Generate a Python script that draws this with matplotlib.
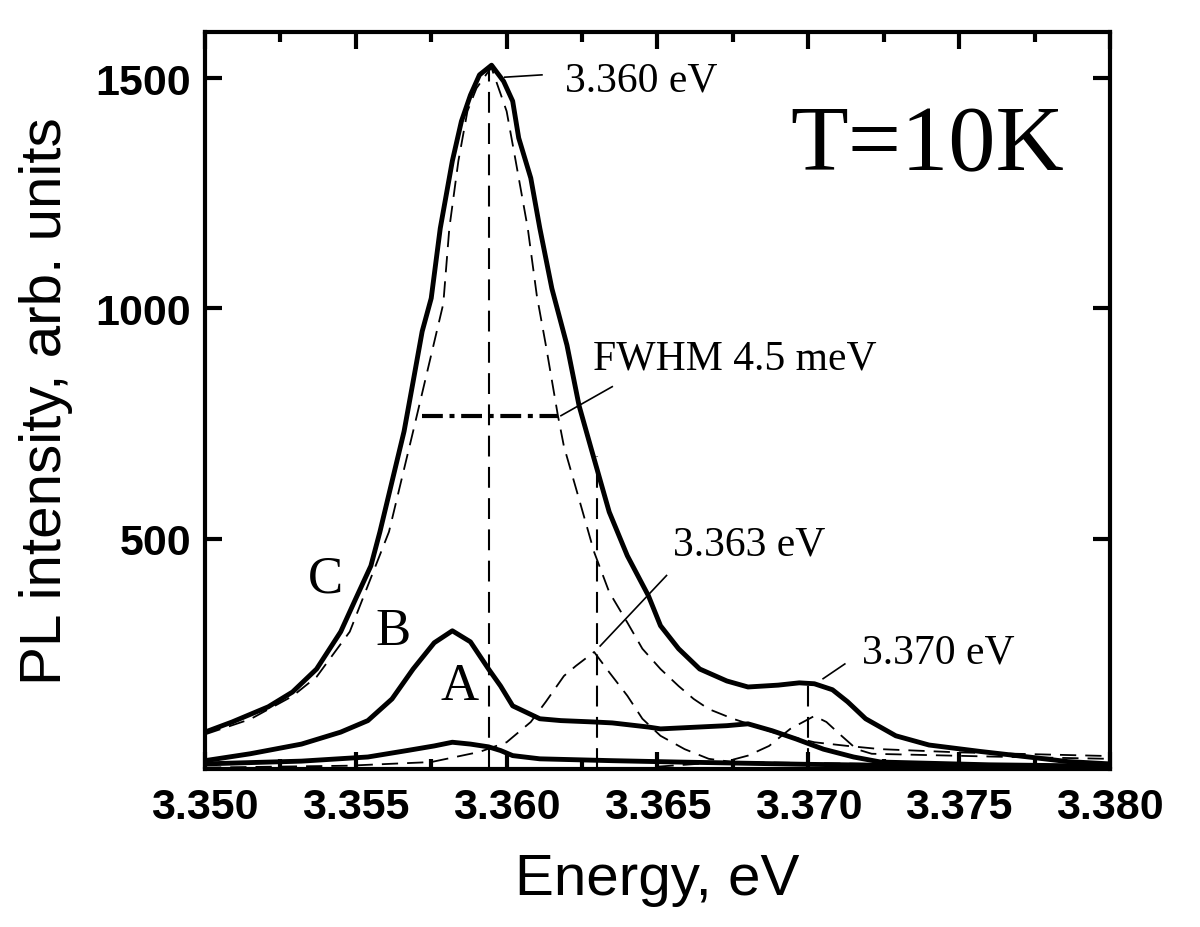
import matplotlib
matplotlib.use('Agg')
import matplotlib.pyplot as plt
from matplotlib.ticker import MultipleLocator, FormatStrFormatter

# PL spectra (energy in eV, intensity in arb. units)
c_energy = [3.3500, 3.3509, 3.3521, 3.3529, 3.3537, 3.3545, 3.3550, 3.3555, 3.3558, 3.3562,
            3.3566, 3.3569, 3.3572, 3.3575, 3.3578, 3.3582, 3.3585, 3.3588, 3.3591, 3.3595,
            3.3599, 3.3602, 3.3604, 3.3608, 3.3611, 3.3615, 3.3620, 3.3624, 3.3628, 3.3634,
            3.3640, 3.3647, 3.3651, 3.3657, 3.3664, 3.3673, 3.3680, 3.3690, 3.3697, 3.3702,
            3.3708, 3.3713, 3.3719, 3.3729, 3.3740, 3.3757, 3.3773, 3.3786, 3.3800]
c_int = [80, 102, 135, 167, 217, 298, 370, 441, 515, 624,
         733, 841, 950, 1022, 1174, 1320, 1406, 1463, 1507, 1528,
         1493, 1450, 1370, 1283, 1174, 1043, 920, 789, 696, 558,
         463, 376, 311, 261, 217, 191, 178, 182, 187, 185,
         172, 146, 109, 72, 52, 38, 26, 16, 11]

b_energy = [3.3500, 3.3515, 3.3532, 3.3545, 3.3554, 3.3562, 3.3569, 3.3576, 3.3582, 3.3588,
            3.3594, 3.3598, 3.3602, 3.3611, 3.3618, 3.3629, 3.3635, 3.3647, 3.3651, 3.3673,
            3.3680, 3.3688, 3.3696, 3.3705, 3.3715, 3.3724, 3.3760, 3.3800]
b_int = [18, 33, 54, 80, 105, 152, 217, 274, 300, 276,
         217, 180, 137, 109, 105, 102, 100, 91, 87, 94,
         98, 83, 65, 43, 26, 15, 9, 6]

a_energy = [3.3500, 3.3532, 3.3554, 3.3567, 3.3576, 3.3582, 3.3588, 3.3594, 3.3598, 3.3602,
            3.3611, 3.3635, 3.3657, 3.3700, 3.3750, 3.3800]
a_int = [11, 17, 26, 40, 50, 58, 54, 48, 40, 29,
         22, 18, 15, 10, 6, 4]

# fit components (dashed)
fit1_energy = [3.3500, 3.3515, 3.3529, 3.3537, 3.3548, 3.3561, 3.3569, 3.3579, 3.3581, 3.3584,
               3.3587, 3.3590, 3.3594, 3.3595, 3.3600, 3.3603, 3.3607, 3.3610, 3.3613, 3.3617,
               3.3619, 3.3623, 3.3629, 3.3634, 3.3640, 3.3645, 3.3651, 3.3657, 3.3662, 3.3667,
               3.3675, 3.3682, 3.3688, 3.3702, 3.3713, 3.3724, 3.3750, 3.3800]
fit1_int = [75, 108, 158, 200, 298, 515, 733, 1010, 1174, 1320,
            1428, 1478, 1515, 1522, 1428, 1320, 1174, 1028, 920, 767,
            700, 609, 471, 384, 318, 261, 217, 180, 152, 130,
            109, 94, 80, 58, 50, 43, 36, 28]

fit2_energy = [3.3500, 3.3547, 3.3575, 3.3591, 3.3600, 3.3608, 3.3613, 3.3619, 3.3623, 3.3629,
               3.3634, 3.3640, 3.3645, 3.3651, 3.3659, 3.3667, 3.3675, 3.3720, 3.3800]
fit2_int = [3, 7, 15, 37, 58, 102, 146, 202, 224, 254,
            210, 159, 109, 72, 43, 22, 15, 11, 7]

fit3_energy = [3.3650, 3.3672, 3.3680, 3.3687, 3.3694, 3.3702, 3.3706, 3.3711, 3.3716, 3.3721,
               3.3760, 3.3800]
fit3_int = [5, 15, 29, 50, 87, 115, 102, 72, 43, 33, 27, 22]

# peak markers and FWHM bar
peak_energy = [3.3594, 3.3630, 3.3700]
peak_top = [1525, 680, 185]
fwhm_energy = [3.3572, 3.3617]
fwhm_level = 767

serif = ['Liberation Serif', 'DejaVu Serif']
sans = ['Liberation Sans', 'DejaVu Sans']

fig = plt.figure(figsize=(12, 9.28), dpi=100)
ax = fig.add_axes([0.1708, 0.1703, 0.7542, 0.7941])

thick = dict(color='black', linewidth=3.5, solid_joinstyle='round')
thin = dict(color='black', linewidth=1.3, linestyle=(0, (9, 5)))

ax.plot(c_energy, c_int, **thick)
ax.plot(b_energy, b_int, **thick)
ax.plot(a_energy, a_int, **thick)
ax.plot(fit1_energy, fit1_int, **thin)
ax.plot(fit2_energy, fit2_int, **thin)
ax.plot(fit3_energy, fit3_int, **thin)
for e, top in zip(peak_energy, peak_top):
    ax.plot([e, e], [0, top], color='black', linewidth=1.5, linestyle=(0, (10, 5)))
ax.plot(fwhm_energy, [fwhm_level, fwhm_level], color='black', linewidth=3,
        linestyle=(0, (5, 1.6, 1.2, 1.6)))

# annotations
ax.plot([3.35994, 3.36117], [1502, 1507], color='black', linewidth=1.2)
ax.text(3.36193, 1496, '3.360 eV', fontsize=30, family=serif, va='center', ha='left')
ax.plot([3.3618, 3.3635], [767, 830], color='black', linewidth=1.2)
ax.text(3.36286, 891, 'FWHM 4.5 meV', fontsize=30, family=serif, va='center', ha='left')
ax.plot([3.3631, 3.3653], [267, 420], color='black', linewidth=1.2)
ax.text(3.36551, 487, '3.363 eV', fontsize=30, family=serif, va='center', ha='left')
ax.plot([3.37049, 3.37121], [196, 228], color='black', linewidth=1.2)
ax.text(3.37178, 254, '3.370 eV', fontsize=30, family=serif, va='center', ha='left')
ax.text(3.36939, 1350, 'T=10K', fontsize=68, family=serif, va='center', ha='left')

ax.text(3.35398, 413, 'C', fontsize=38, family=serif, va='center', ha='center')
ax.text(3.35623, 300, 'B', fontsize=38, family=serif, va='center', ha='center')
ax.text(3.35845, 180, 'A', fontsize=38, family=serif, va='center', ha='center')

ax.set_xlim(3.350, 3.380)
ax.set_ylim(0, 1600)
ax.xaxis.set_major_locator(MultipleLocator(0.005))
ax.xaxis.set_minor_locator(MultipleLocator(0.0025))
ax.xaxis.set_major_formatter(FormatStrFormatter('%.3f'))
ax.set_yticks([500, 1000, 1500])

ax.tick_params(which='both', direction='in', top=True, right=True, width=3, color='black')
ax.tick_params(which='major', length=12)
ax.tick_params(which='minor', length=7)
ax.tick_params(axis='x', pad=13)
ax.tick_params(axis='y', pad=10)
for lab in ax.get_xticklabels() + ax.get_yticklabels():
    lab.set_fontfamily(sans)
    lab.set_fontweight('bold')
    lab.set_fontsize(31)
for sp in ax.spines.values():
    sp.set_linewidth(3)

ax.set_xlabel('Energy, eV', fontsize=42, family=sans, labelpad=18)
ax.set_ylabel('PL intensity, arb. units', fontsize=42, family=sans, labelpad=16)

fig.savefig('out.png', dpi=100)
